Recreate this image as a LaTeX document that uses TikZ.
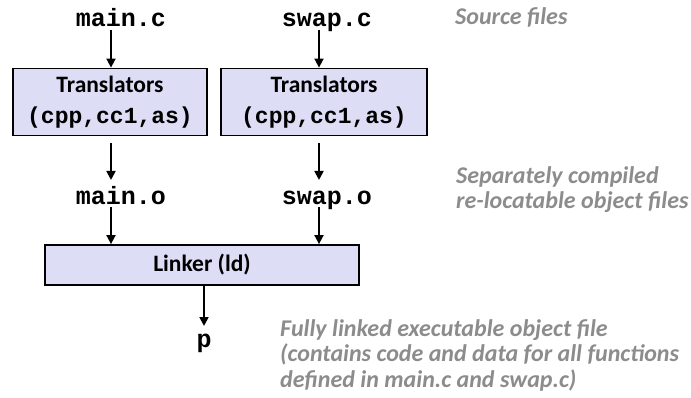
\documentclass[tikz,border=0pt]{standalone}
\usepackage{fontspec}
\setmainfont{Carlito}
\newfontfamily\codefont{Liberation Mono}
\usetikzlibrary{arrows.meta}
\definecolor{boxfill}{RGB}{221,221,246}
\definecolor{notegray}{RGB}{140,140,140}
\begin{document}
\begin{tikzpicture}[x=1pt,y=-1pt,
  code/.style={font=\codefont\bfseries\fontsize{25}{28}\selectfont, inner sep=0pt, anchor=base},
  box/.style={draw=black, line width=1.8pt, fill=boxfill, align=center, inner sep=0pt},
  boxfont/.style={font=\bfseries\fontsize{23.5}{26}\selectfont},
  note/.style={font=\bfseries\itshape\fontsize{24}{25.5}\selectfont, text=notegray, align=left, inner sep=0pt, anchor=base west},
  arr/.style={line width=1.8pt, -{Triangle[length=9pt,width=9pt]}}]
\useasboundingbox (0,0) rectangle (691,398);
\coordinate (xl) at (111,0);
\coordinate (xr) at (319,0);
% source files
\node[code] (mainc) at (121,27) {main.c};
\node[code] (swapc) at (327,27) {swap.c};
% translators
\node[box, boxfont, minimum width=194pt, minimum height=67pt] (t1) at (110,102)
  {Translators\\[5pt]{\codefont\bfseries\fontsize{23}{26}\selectfont (cpp,cc1,as)}};
\node[box, boxfont, minimum width=206pt, minimum height=67pt] (t2) at (324,102)
  {Translators\\[5pt]{\codefont\bfseries\fontsize{23}{26}\selectfont (cpp,cc1,as)}};
% object files
\node[code] (maino) at (121,205) {main.o};
\node[code] (swapo) at (327,205) {swap.o};
% linker
\node[box, font=\bfseries\fontsize{23.5}{26}\selectfont, minimum width=314pt, minimum height=40pt] (ld) at (202,265) {Linker (ld)};
\node[code] (p) at (204,347) {p};
% notes
\node[note] (n1) at (455,24.5) {Source files};
\node[note] (n2) at (456,209) {Separately compiled\\re-locatable object files};
\node[note] (n3) at (280,387) {Fully linked executable object file\\(contains code and data for all functions\\defined in main.c and swap.c)};
% arrows
\draw[arr] ([shift={(0,3)}]mainc.base -| xl) -- (t1.north -| xl);
\draw[arr] ([shift={(0,3)}]swapc.base -| xr) -- (t2.north -| xr);
\draw[arr] ([shift={(0,7)}]t1.south -| xl) -- ([shift={(0,-25)}]maino.base -| xl);
\draw[arr] ([shift={(0,7)}]t2.south -| xr) -- ([shift={(0,-25)}]swapo.base -| xr);
\draw[arr] ([shift={(0,2)}]maino.base -| xl) -- (ld.north -| xl);
\draw[arr] ([shift={(0,2)}]swapo.base -| xr) -- (ld.north -| xr);
\draw[arr] (ld.south -| p) -- ([shift={(0,-21)}]p.base);
\end{tikzpicture}
\end{document}
